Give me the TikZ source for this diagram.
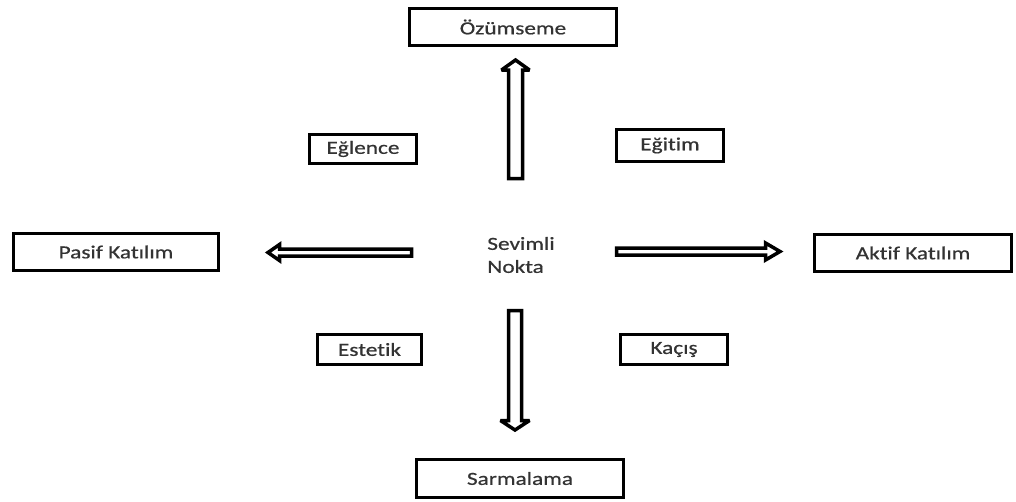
\documentclass[tikz,border=0pt]{standalone}
\usepackage{fontspec}
\setmainfont[FakeStretch=1.26,FakeBold=0.6,Ligatures=NoCommon]{Carlito}
\begin{document}
\begin{tikzpicture}[x=1pt,y=-1pt,
  lbl/.style={draw=black, line width=3.5pt, fill=white, inner sep=0pt, text=black!80,
    font=\fontsize{18.5}{22}\selectfont},
  blk/.style={draw=black, line width=3.5pt, fill=white, line join=miter, miter limit=3}]
\useasboundingbox (0,0) rectangle (1016,501);
% boxes
\node[lbl, minimum width=207pt, minimum height=37pt] (ozum) at (513,27) {Özümseme};
\node[lbl, minimum width=207pt, minimum height=38pt] (sarm) at (520,478.5) {Sarmalama};
\node[lbl, minimum width=107pt, minimum height=29pt] (eglence) at (363,149) {Eğlence};
\node[lbl, minimum width=107pt, minimum height=32pt] (egitim) at (670,145.5) {Eğitim};
\node[lbl, minimum width=205pt, minimum height=37pt] (pasif) at (116,252) {Pasif Katılım};
\node[lbl, minimum width=197pt, minimum height=37pt] (aktif) at (913,253) {Aktif Katılım};
\node[lbl, minimum width=104pt, minimum height=30pt] (estetik) at (369.5,349.5) {Estetik};
\node[lbl, minimum width=107pt, minimum height=30pt] (kacis) at (674,349.5) {Kaçış};
% centre text
\node[align=left, inner sep=0pt, text=black!80, font=\fontsize{18.5}{23}\selectfont] (center) at (521,255) {Sevimli\\Nokta};
% arrow endpoints
\coordinate (upTail) at (515.5,178.5);
\coordinate (upTip) at (515.5,60);
\coordinate (dnTail) at (515,310.5);
\coordinate (dnTip) at (515,430);
\coordinate (lfTail) at (411.5,252.5);
\coordinate (lfTip) at (268,252.5);
\coordinate (rtTail) at (616.5,251.5);
\coordinate (rtTip) at (780,251.5);
% up arrow
\draw[blk] (upTail) ++(-7,0) -- ++(0,-108.5) -- ++(-7,0) -- (upTip) -- ++(14,10) -- ++(-7,0) -- ++(0,108.5) -- cycle;
% down arrow
\draw[blk] (dnTail) ++(-6.5,0) -- ++(0,110) -- ++(-8,0) -- (dnTip) -- ++(14.5,-9.5) -- ++(-8,0) -- ++(0,-110) -- cycle;
% left arrow
\draw[blk] (lfTail) ++(0,-3.5) -- ++(-132,0) -- ++(0,-4.5) -- (lfTip) -- ++(11.5,8) -- ++(0,-4.5) -- ++(132,0) -- cycle;
% right arrow
\draw[blk] (rtTail) ++(0,-3.5) -- ++(149,0) -- ++(0,-5) -- (rtTip) -- ++(-14.5,8.5) -- ++(0,-5) -- ++(-149,0) -- cycle;
\end{tikzpicture}
\end{document}
